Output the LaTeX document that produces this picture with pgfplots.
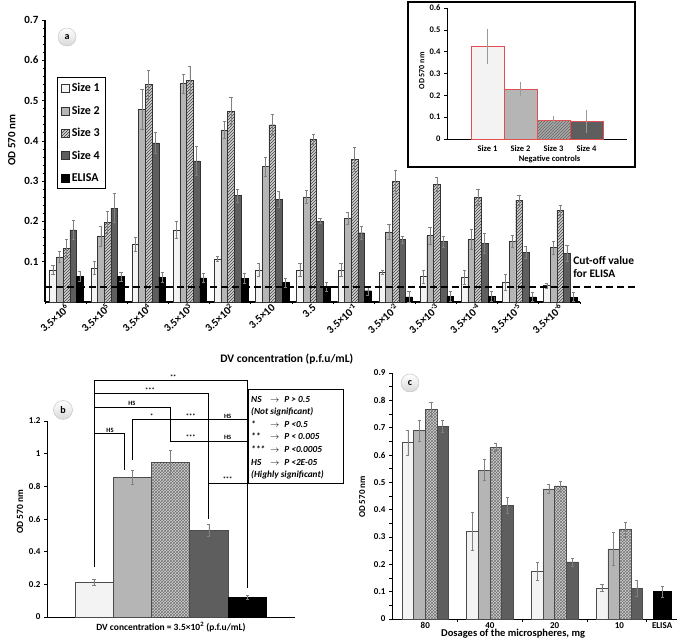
\documentclass[border=0pt]{standalone}
\usepackage{fontspec}
\setmainfont{Carlito}
\usepackage{pgfplots}
\pgfplotsset{compat=1.18}
\usetikzlibrary{patterns}
\definecolor{cA}{HTML}{F3F3F3}
\definecolor{cB}{HTML}{B5B5B5}
\definecolor{cC}{HTML}{D2D2D2}
\definecolor{cD}{HTML}{5E5E5E}
\definecolor{redge}{HTML}{E05050}
\newcommand{\fs}[1]{\fontsize{#1}{#1}\selectfont}
\newcommand{\arr}{$\rightarrow$}
\pgfplotsset{
  panel/.style={scale only axis, anchor=south west,
    axis x line*=bottom, axis y line*=left, axis line style={-},
    tick align=outside, clip=false,
    /pgf/number format/assume math mode=true,
    major tick length=3pt, minor tick length=2pt,
    tick style={black, line width=0.6pt},
    error bars/y dir=both, error bars/y explicit,
    error bars/error bar style={black!50, line width=0.5pt},
    error bars/error mark options={rotate=90, black!50, mark size=1.6pt, line width=0.5pt},
  },
}
\begin{document}
\begin{tikzpicture}
\path[use as bounding box] (0pt,0pt) rectangle (685pt,642pt);
% ---------------- panel a ----------------
\begin{axis}[panel, at={(45pt,340pt)}, width=535pt, height=282pt,
  xmin=0, xmax=13, ymin=0, ymax=0.7,
  axis line style={line width=1.3pt},
  ytick={0.1,0.2,0.3,0.4,0.5,0.6,0.7},
  yticklabel style={font=\bfseries\fs{11}, /pgf/number format/.cd, fixed, precision=1, fixed zerofill},
  minor y tick num=4,
  xtick={0.5,1.5,2.5,3.5,4.5,5.5,6.5,7.5,8.5,9.5,10.5,11.5,12.5},
  xticklabels={{3.5×10\textsuperscript{6}},{3.5×10\textsuperscript{5}},{3.5×10\textsuperscript{4}},{3.5×10\textsuperscript{3}},{3.5×10\textsuperscript{2}},{3.5×10},{3.5},{3.5×10\textsuperscript{-1}},{3.5×10\textsuperscript{-2}},{3.5×10\textsuperscript{-3}},{3.5×10\textsuperscript{-4}},{3.5×10\textsuperscript{-5}},{3.5×10\textsuperscript{-6}}},
  xticklabel style={font=\bfseries\fs{11}, rotate=42, anchor=east, inner sep=1pt, xshift=2pt, yshift=-2pt},
  major x tick style={draw=none},
  minor xtick={0,1,...,13},
  minor x tick style={line width=0.8pt},
  xlabel={DV concentration (p.f.u/mL)},
  xlabel style={font=\bfseries\fs{11.5}, at={(axis description cs:0.452,-0.202)}, anchor=center},
  ylabel={OD 570 nm},
  ylabel style={font=\bfseries\fs{11}, at={(axis description cs:-0.062,0.574)}, anchor=center},
  legend image code/.code={\draw[#1, line width=0.5pt] (0pt,-4pt) rectangle (8pt,4pt);},
  legend style={at={(0.022,0.798)}, anchor=north west, draw=black, line width=1pt,
    font=\bfseries\fs{12}, row sep=8.5pt, inner sep=4pt, cells={anchor=west}},
]
\addplot[ybar, bar width=0.163, fill=cA, draw=black!80, line width=0.4pt] coordinates {
 (0.194,0.080) +- (0,0.012) (1.194,0.085) +- (0,0.015) (2.194,0.144) +- (0,0.017) (3.194,0.179) +- (0,0.021)
 (4.194,0.107) +- (0,0.007) (5.194,0.080) +- (0,0.015) (6.194,0.080) +- (0,0.015) (7.194,0.080) +- (0,0.015)
 (8.194,0.074) +- (0,0.005) (9.194,0.063) +- (0,0.016) (10.194,0.061) +- (0,0.017) (11.194,0.049) +- (0,0.021)
 (12.194,0.041) +- (0,0.006)};
\addlegendentry{Size 1}
\addplot[ybar, bar width=0.163, fill=cB, draw=black!80, line width=0.4pt] coordinates {
 (0.357,0.112) +- (0,0.013) (1.357,0.164) +- (0,0.025) (2.357,0.479) +- (0,0.049) (3.357,0.542) +- (0,0.024)
 (4.357,0.427) +- (0,0.021) (5.357,0.336) +- (0,0.023) (6.357,0.261) +- (0,0.017) (7.357,0.208) +- (0,0.015)
 (8.357,0.174) +- (0,0.019) (9.357,0.165) +- (0,0.021) (10.357,0.155) +- (0,0.025) (11.357,0.150) +- (0,0.015)
 (12.357,0.135) +- (0,0.016)};
\addlegendentry{Size 2}
\addplot[ybar, bar width=0.163, fill=cC, draw=black!80, line width=0.4pt,
  postaction={pattern=north east lines, pattern color=black!75}] coordinates {
 (0.520,0.134) +- (0,0.022) (1.520,0.198) +- (0,0.027) (2.520,0.540) +- (0,0.036) (3.520,0.551) +- (0,0.034)
 (4.520,0.474) +- (0,0.034) (5.520,0.440) +- (0,0.025) (6.520,0.404) +- (0,0.012) (7.520,0.354) +- (0,0.030)
 (8.520,0.299) +- (0,0.029) (9.520,0.292) +- (0,0.018) (10.520,0.260) +- (0,0.019) (11.520,0.252) +- (0,0.012)
 (12.520,0.228) +- (0,0.012)};
\addlegendentry{Size 3}
\addplot[ybar, bar width=0.163, fill=cD, draw=black!80, line width=0.4pt] coordinates {
 (0.683,0.179) +- (0,0.023) (1.683,0.233) +- (0,0.036) (2.683,0.395) +- (0,0.026) (3.683,0.350) +- (0,0.036)
 (4.683,0.264) +- (0,0.017) (5.683,0.255) +- (0,0.021) (6.683,0.201) +- (0,0.006) (7.683,0.172) +- (0,0.017)
 (8.683,0.155) +- (0,0.008) (9.683,0.150) +- (0,0.013) (10.683,0.145) +- (0,0.025) (11.683,0.124) +- (0,0.015)
 (12.683,0.121) +- (0,0.019)};
\addlegendentry{Size 4}
\addplot[ybar, bar width=0.163, fill=black, draw=black, line width=0.4pt] coordinates {
 (0.846,0.064) +- (0,0.012) (1.846,0.063) +- (0,0.012) (2.846,0.062) +- (0,0.012) (3.846,0.060) +- (0,0.012)
 (4.846,0.059) +- (0,0.012) (5.846,0.048) +- (0,0.012) (6.846,0.038) +- (0,0.012) (7.846,0.028) +- (0,0.012)
 (8.846,0.013) +- (0,0.013) (9.846,0.014) +- (0,0.012) (10.846,0.014) +- (0,0.013) (11.846,0.013) +- (0,0.011)
 (12.846,0.012) +- (0,0.011)};
\addlegendentry{ELISA}
\addplot[forget plot, black, line width=2pt, dash pattern=on 7pt off 4pt, error bars/y dir=none] coordinates {(0,0.036) (14.4,0.036)};
\node[anchor=west, align=left, font=\bfseries\fs{11.5}] at (axis cs:12.75,0.087) {Cut-off value\\[2pt]for ELISA};
\end{axis}
% ---------------- inset ----------------
\fill[white] (408pt,475pt) rectangle (635pt,640pt);
\draw[line width=1.3pt] (408pt,475pt) rectangle (635pt,640pt);
\begin{axis}[panel, at={(447pt,503pt)}, width=180pt, height=131pt,
  xmin=0, xmax=180, ymin=0, ymax=0.6,
  axis line style={line width=0.6pt},
  ytick={0,0.1,0.2,0.3,0.4,0.5,0.6},
  yticklabel style={font=\bfseries\fs{8.5}, /pgf/number format/.cd, fixed, precision=1},
  xtick={40.5,73.5,106.5,139.5}, xticklabels={Size 1,Size 2,Size 3,Size 4},
  xticklabel style={font=\bfseries\fs{8.5}},
  major x tick style={draw=none},
  xlabel={Negative controls},
  xlabel style={font=\bfseries\fs{8.5}, at={(axis description cs:0.57,-0.155)}, anchor=center},
  ylabel={OD 570 nm},
  ylabel style={font=\bfseries\fs{8}, at={(axis description cs:-0.14,0.52)}, anchor=center},
  error bars/error mark=none,
  error bars/error bar style={black!40, line width=0.5pt},
]
\addplot[ybar, bar width=33, fill=cA, draw=redge, line width=0.7pt] coordinates {(40.5,0.424) +- (0,0.080)};
\addplot[ybar, bar width=33, fill=cB, draw=redge, line width=0.7pt] coordinates {(73.5,0.229) +- (0,0.033)};
\addplot[ybar, bar width=33, fill=cC!80!black, draw=redge, line width=0.7pt, postaction={pattern=north east lines, pattern color=black!60}] coordinates {(106.5,0.085) +- (0,0.021)};
\addplot[ybar, bar width=33, fill=cD, draw=redge, line width=0.7pt] coordinates {(139.5,0.079) +- (0,0.052)};
\end{axis}
\node[circle, draw=gray!50, top color=white, bottom color=gray!30, minimum size=18pt, inner sep=0pt, font=\bfseries\fs{10}] at (67pt,605pt) {a};
% ---------------- panel b ----------------
\begin{axis}[panel, at={(47pt,25pt)}, width=248pt, height=196pt,
  xmin=-1.227, xmax=5.25, ymin=0, ymax=1.2,
  axis line style={line width=0.9pt},
  ytick={0,0.2,0.4,0.6,0.8,1,1.2},
  yticklabel style={font=\bfseries\fs{9}, /pgf/number format/.cd, fixed, precision=1},
  xtick=\empty,
  xlabel={DV concentration = 3.5×10\textsuperscript{2} (p.f.u/mL)},
  xlabel style={font=\bfseries\fs{9.5}, at={(axis description cs:0.5,-0.05)}, anchor=center},
  ylabel={OD 570 nm},
  ylabel style={font=\bfseries\fs{9.5}, at={(axis description cs:-0.109,0.536)}, anchor=center},
]
\addplot[ybar, bar width=1, fill=cA, draw=black!70, line width=0.5pt] coordinates {(0,0.214) +- (0,0.020)};
\addplot[ybar, bar width=1, fill=cB, draw=black!70, line width=0.5pt] coordinates {(1,0.856) +- (0,0.043)};
\addplot[ybar, bar width=1, fill=cC, draw=black!70, line width=0.5pt, postaction={pattern=crosshatch, pattern color=black!55}] coordinates {(2,0.948) +- (0,0.073)};
\addplot[ybar, bar width=1, fill=cD, draw=black!70, line width=0.5pt] coordinates {(3,0.531) +- (0,0.035)};
\addplot[ybar, bar width=1, fill=black, draw=black, line width=0.5pt] coordinates {(4,0.120) +- (0,0.014)};
\begin{scope}[line width=0.9pt]
\draw (axis cs:0,0.305) |- (axis cs:4,1.448) -- (axis cs:4,0.177);
\draw (axis cs:0,1.367) -| (axis cs:3,0.600);
\draw (axis cs:0,1.285) -| (axis cs:2,1.072);
\draw (axis cs:0,1.123) -| (axis cs:0.8,0.899);
\draw (axis cs:1,0.960) |- (axis cs:4,1.208);
\draw (axis cs:2,1.076) -- (axis cs:4,1.076);
\draw (axis cs:3,0.818) -- (axis cs:4,0.818);
\end{scope}
\begin{scope}[every node/.style={font=\bfseries\fs{6.5}, anchor=south, inner sep=1.2pt}]
\node at (axis cs:2.07,1.448) {**};
\node at (axis cs:1.46,1.367) {***};
\node at (axis cs:0.99,1.285) {HS};
\node at (axis cs:0.42,1.123) {HS};
\node at (axis cs:1.51,1.208) {*};
\node at (axis cs:2.53,1.208) {***};
\node at (axis cs:3.49,1.208) {HS};
\node at (axis cs:2.53,1.076) {***};
\node at (axis cs:3.49,1.076) {HS};
\node at (axis cs:3.49,0.818) {***};
\end{scope}
\end{axis}
\draw[line width=1pt] (248pt,158pt) rectangle (343pt,252pt);
\node[anchor=north west, inner sep=0pt, font=\bfseries\itshape\fontsize{9.3}{12.6}\selectfont] at (251pt,249pt) {%
\begin{tabular}{@{}l@{\hspace{5pt}}c@{\hspace{5pt}}l@{}}
NS & \arr & P > 0.5\\
\multicolumn{3}{@{}l@{}}{(Not significant)}\\
{*} & \arr & P <0.5\\
{**} & \arr & P < 0.005\\
{***} & \arr & P <0.0005\\
HS & \arr & P <2E-05\\
\multicolumn{3}{@{}l@{}}{(Highly significant)}
\end{tabular}};
\node[circle, draw=gray!50, top color=white, bottom color=gray!30, minimum size=19pt, inner sep=0pt, font=\bfseries\fs{10}] at (63pt,232pt) {b};
% ---------------- panel c ----------------
\begin{axis}[panel, at={(392pt,23pt)}, width=285pt, height=246pt,
  xmin=-0.514, xmax=3.89, ymin=0, ymax=0.9,
  axis line style={line width=0.9pt},
  ytick={0,0.1,0.2,0.3,0.4,0.5,0.6,0.7,0.8,0.9},
  yticklabel style={font=\bfseries\fs{9}, /pgf/number format/.cd, fixed, precision=1},
  minor y tick num=1,
  xtick={0,1,2,3,3.66}, xticklabels={80,40,20,10,ELISA},
  xticklabel style={font=\bfseries\fs{9}, inner sep=0.5pt},
  major x tick style={draw=none},
  minor xtick={0.5,1.5,2.5,3.42},
  minor x tick style={line width=0.6pt},
  minor tick length=3pt,
  xlabel={Dosages of the microspheres, mg},
  xlabel style={font=\bfseries\fs{10.5}, at={(axis description cs:0.425,-0.059)}, anchor=center},
  ylabel={OD 570 nm},
  ylabel style={font=\bfseries\fs{9}, at={(axis description cs:-0.105,0.496)}, anchor=center},
]
\addplot[ybar, bar width=0.18, fill=cA, draw=black!70, line width=0.5pt] coordinates {
 (-0.27,0.646) +- (0,0.046) (0.73,0.321) +- (0,0.071) (1.73,0.174) +- (0,0.034) (2.73,0.113) +- (0,0.013)};
\addplot[ybar, bar width=0.18, fill=cB, draw=black!70, line width=0.5pt] coordinates {
 (-0.09,0.689) +- (0,0.037) (0.91,0.545) +- (0,0.038) (1.91,0.476) +- (0,0.017) (2.91,0.257) +- (0,0.059)};
\addplot[ybar, bar width=0.18, fill=cC, draw=black!70, line width=0.5pt, postaction={pattern=crosshatch, pattern color=black!55}] coordinates {
 (0.09,0.768) +- (0,0.026) (1.09,0.627) +- (0,0.015) (2.09,0.487) +- (0,0.018) (3.09,0.327) +- (0,0.027)};
\addplot[ybar, bar width=0.18, fill=cD, draw=black!70, line width=0.5pt] coordinates {
 (0.27,0.705) +- (0,0.021) (1.27,0.417) +- (0,0.029) (2.27,0.209) +- (0,0.015) (3.27,0.112) +- (0,0.028)};
\addplot[ybar, bar width=0.27, fill=black, draw=black, line width=0.5pt] coordinates {
 (3.66,0.100) +- (0,0.019)};
\end{axis}
\node[circle, draw=gray!50, top color=white, bottom color=gray!30, minimum size=18pt, inner sep=0pt, font=\bfseries\fs{10}] at (410pt,259pt) {c};
\end{tikzpicture}
\end{document}
